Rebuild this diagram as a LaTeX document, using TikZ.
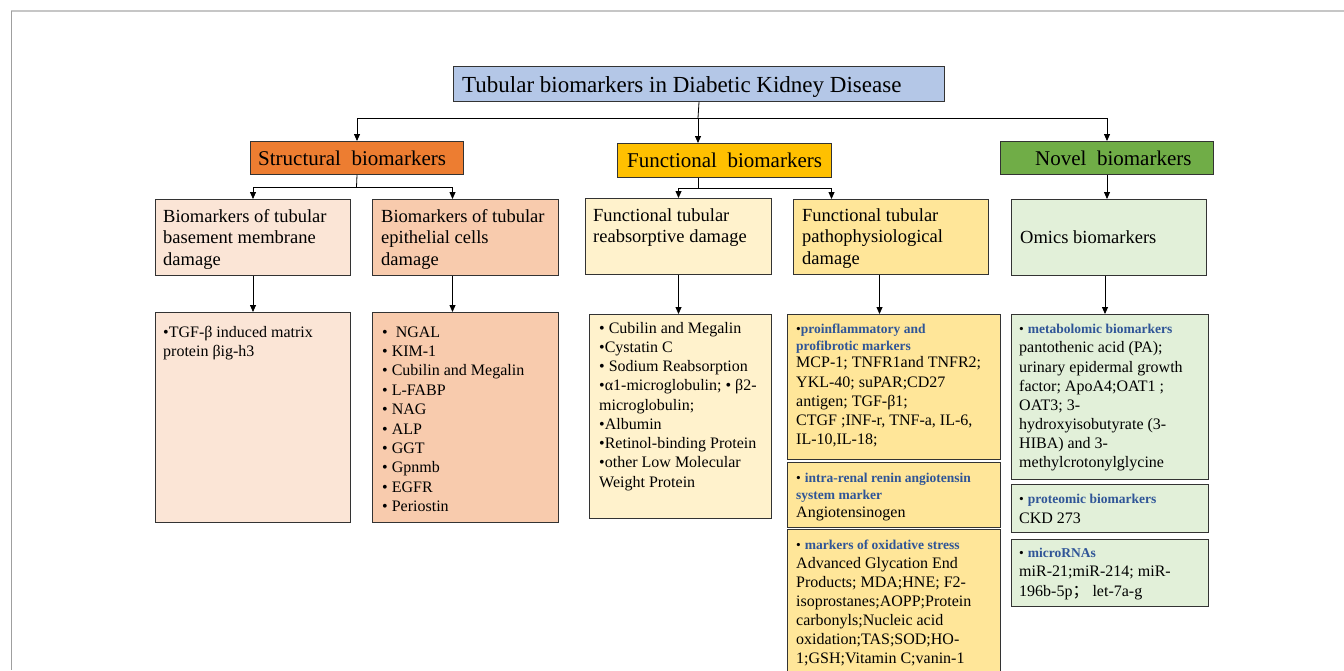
\documentclass[tikz,border=0pt]{standalone}
\usepackage{fontspec}
\setmainfont{Liberation Serif}
\newfontfamily\cjkfont{Noto Sans CJK SC}
\usetikzlibrary{arrows.meta}
\definecolor{ctitle}{HTML}{B4C7E7}
\definecolor{cstruct}{HTML}{ED7D31}
\definecolor{cfunc}{HTML}{FFC000}
\definecolor{cnovel}{HTML}{70AD47}
\definecolor{cA}{HTML}{FBE5D6}
\definecolor{cB}{HTML}{F8CBAD}
\definecolor{cC}{HTML}{FFF2CC}
\definecolor{cD}{HTML}{FFE699}
\definecolor{cE}{HTML}{E2F0D9}
\definecolor{hblue}{HTML}{2F5597}
\newcommand\ls[2][19.3pt]{\vtop{\baselineskip=#1\relax\lineskiplimit=-50pt\lineskip=0pt\halign{##\hfil\cr#2\crcr}}}
\newcommand\hd[1]{{\fontsize{13.5}{16}\selectfont\bfseries\color{hblue}#1}}
\newcommand\hb{{\fontsize{13.5}{16}\selectfont •}}
\newcommand\bbox[6]{\node[bx, fill=#6, minimum width={(#4-#2)*1pt}, minimum height={(#5-#3)*1pt}] (#1) at (#2,#3) {};}
\tikzset{
  bx/.style={draw=black!80, line width=1pt, anchor=north west, inner sep=0pt},
  tx/.style={anchor=base west, inner sep=0pt, font=\fontsize{16}{19.3}\selectfont},
  lvtwo/.style={anchor=base west, inner sep=0pt, font=\fontsize{18.5}{21.7}\selectfont},
  cat/.style={anchor=base west, inner sep=0pt, font=\fontsize{21}{24}\selectfont},
  arr/.style={-{Triangle[length=7pt,width=6pt]}, line width=0.8pt, draw=black},
  ln/.style={line width=0.8pt, draw=black},
}
\begin{document}
\begin{tikzpicture}[x=1pt,y=-1pt]
\clip (0,0) rectangle (1344,670);
\fill[white] (0,0) rectangle (1344,670);
\draw[gray!45, line width=1.5pt] (11,11) -- (1344,11);
\draw[gray!75, line width=1pt] (11,11) -- (11,670);

% boxes
\bbox{title}{453}{66}{944}{101}{ctitle}
\bbox{struct}{250}{141}{463}{174}{cstruct}
\bbox{func}{617}{143}{831}{177}{cfunc}
\bbox{novel}{1000}{141}{1213}{174}{cnovel}
\bbox{A}{155}{199}{350}{275}{cA}
\bbox{B}{372}{199}{558}{275}{cB}
\bbox{C}{585}{198}{771}{274}{cC}
\bbox{D}{793}{199}{988}{274}{cD}
\bbox{omics}{1011}{199}{1206}{275}{cE}
\bbox{cA}{155}{312}{350}{522}{cA}
\bbox{cB}{372}{312}{558}{522}{cB}
\bbox{cC}{589}{314}{771}{518}{cC}
\bbox{dOne}{787}{314}{1000}{459}{cD}
\bbox{dTwo}{787}{462}{1000}{527}{cD}
\bbox{dThree}{787}{529}{1000}{700}{cD}
\bbox{eOne}{1011}{314}{1208}{479}{cE}
\bbox{eTwo}{1011}{484}{1208}{532}{cE}
\bbox{eThree}{1011}{539}{1208}{606}{cE}

% texts
\node[anchor=base west, inner sep=0pt, font=\fontsize{23}{26}\selectfont] (titlet) at (462,92) {Tubular biomarkers in Diabetic Kidney Disease};
\node[cat] (structt) at (258,165) {Structural~~biomarkers};
\node[cat] (funct) at (627,167) {Functional~~biomarkers};
\node[cat] (novelt) at (1035,165) {Novel~~biomarkers};
\node[lvtwo] (At) at (163,222) {\ls[21.7pt]{Biomarkers of tubular\cr basement membrane\cr damage}};
\node[lvtwo] (Bt) at (381,222) {\ls[21.7pt]{Biomarkers of tubular\cr epithelial cells\cr damage}};
\node[lvtwo] (Ct) at (593,221) {\ls[21.7pt]{Functional tubular\cr reabsorptive damage}};
\node[lvtwo] (Dt) at (802,221) {\ls[21.7pt]{Functional tubular\cr pathophysiological\cr damage}};
\node[lvtwo] (omicst) at (1020,243) {Omics biomarkers};

\node[tx] (cAt) at (163,337) {\ls{•TGF-β induced matrix\cr protein βig-h3}};
\node[tx] (cBt) at (382,337) {\ls[19.4pt]{•~~NGAL\cr • KIM-1\cr • Cubilin and Megalin\cr • L-FABP\cr • NAG\cr • ALP\cr • GGT\cr • Gpnmb\cr • EGFR\cr • Periostin}};
\node[tx] (cCt) at (599,333) {\ls[19.25pt]{• Cubilin and Megalin\cr •Cystatin C\cr • Sodium Reabsorption\cr •α1-microglobulin; • β2-\cr microglobulin;\cr •Albumin\cr •Retinol-binding Protein\cr •other Low Molecular\cr Weight Protein}};
\node[tx] (dOnet) at (796,333) {\ls{\hb\hd{proinflammatory and}\cr\noalign{\kern-1.6pt}
 \hd{profibrotic markers}\cr\noalign{\kern-2.3pt}
 MCP-1; TNFR1and TNFR2;\cr YKL-40; suPAR;CD27\cr antigen; TGF-β1;\cr CTGF ;INF-r, TNF-a, IL-6,\cr IL-10,IL-18;}};
\node[tx] (dTwot) at (796,482) {\ls{\hb\ \hd{intra-renal renin angiotensin}\cr\noalign{\kern-2pt}
 \hd{system marker}\cr\noalign{\kern-1.3pt}
 Angiotensinogen}};
\node[tx] (dThreet) at (796,549) {\ls[19pt]{\hb\ \hd{markers of oxidative stress}\cr
 Advanced Glycation End\cr Products; MDA;HNE; F2-\cr isoprostanes;AOPP;Protein\cr carbonyls;Nucleic acid\cr oxidation;TAS;SOD;HO-\cr 1;GSH;Vitamin C;vanin-1}};
\node[tx] (eOnet) at (1019,333) {\ls[19.1pt]{\hb\ \hd{metabolomic biomarkers}\cr\noalign{\kern0.8pt}
 pantothenic acid (PA);\cr urinary epidermal growth\cr factor; ApoA4;OAT1 ;\cr OAT3; 3-\cr hydroxyisobutyrate (3-\cr HIBA) and 3-\cr methylcrotonylglycine}};
\node[tx] (eTwot) at (1019,503) {\ls[20pt]{\hb\ \hd{proteomic biomarkers}\cr CKD 273}};
\node[tx] (eThreet) at (1019,557) {\ls[19.5pt]{\hb\ \hd{microRNAs}\cr miR-21;miR-214; miR-\cr 196b-5p{\cjkfont ；}~let-7a-g}};

% connectors
\coordinate (j0) at (698,118);
\draw[ln] (title.south) -- (j0);
\draw[arr] (j0) -| (struct.north);
\draw[arr] (j0) -- (j0 |- func.north);
\draw[arr] (j0) -| (novel.north);

\coordinate (j1) at (356.5,187);
\draw[ln] (struct.south) -- (j1);
\draw[arr] (j1) -| (A.north);
\draw[arr] (j1) -| ([xshift=-13pt]B.north);

\coordinate (j2) at (698,188);
\draw[ln] (j2 |- func.south) -- (j2);
\draw[arr] (j2) -| (C.north);
\draw[arr] (j2) -| ([xshift=-59.5pt]D.north);

\draw[arr] (novel.south) -- (novel.south |- omics.north);

\draw[arr] (A.south) -- (cA.north);
\draw[arr] ([xshift=-13pt]B.south) -- ([xshift=-13pt]cB.north);
\draw[arr] (C.south) -- (C.south |- cC.north);
\draw[arr] ([xshift=-11.5pt]D.south) -- ([xshift=-11.5pt]D.south |- dOne.north);
\draw[arr] ([xshift=-4pt]omics.south) -- ([xshift=-4pt]omics.south |- eOne.north);
\end{tikzpicture}
\end{document}
